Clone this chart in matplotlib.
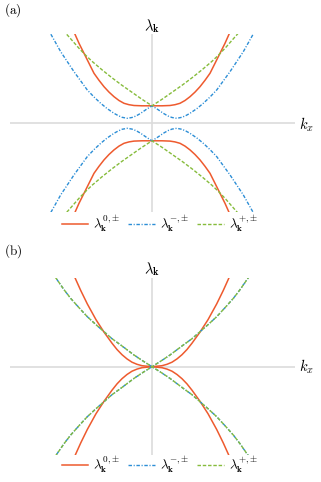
import numpy as np
import matplotlib
matplotlib.use("Agg")
import matplotlib.pyplot as plt

plt.rcParams["mathtext.fontset"] = "cm"
plt.rcParams["font.family"] = "serif"
plt.rcParams["font.serif"] = ["DejaVu Serif"]

# ---------------------------------------------------------------------------
# data: upper branch, k >= 0 (plot is mirror symmetric)
# ---------------------------------------------------------------------------
# panel (a)
a_red_k = [0.0, 0.1, 0.18, 0.23, 0.28, 0.33, 0.38, 0.43, 0.48, 0.53, 0.58,
           0.663, 0.73, 0.77, 0.81]
a_red_y = [0.175, 0.175, 0.178, 0.186, 0.20, 0.228, 0.266, 0.312, 0.366,
           0.43, 0.50, 0.666, 0.80, 0.89, 0.98]

a_blue_k = [0.0, 0.06, 0.113, 0.16, 0.2, 0.247, 0.3, 0.34, 0.38, 0.45, 0.513,
            0.58, 0.647, 0.78, 0.913, 1.007, 1.05]
a_blue_y = [0.175, 0.137, 0.10, 0.073, 0.058, 0.05, 0.06, 0.078, 0.10, 0.148,
            0.20, 0.263, 0.333, 0.516, 0.716, 0.883, 0.96]

a_green_k = [0.0, 0.1, 0.2, 0.3, 0.4, 0.5, 0.6, 0.663, 0.73, 0.8, 0.853, 0.92]
a_green_y = [0.175, 0.24, 0.31, 0.38, 0.455, 0.535, 0.62, 0.68, 0.75, 0.83,
             0.89, 0.97]

# panel (b)
b_red_k = [0.0, 0.1, 0.15, 0.2, 0.25, 0.3, 0.35, 0.4, 0.48, 0.56, 0.647,
           0.713, 0.773, 0.82]
b_red_y = [0.0, 0.01, 0.024, 0.045, 0.078, 0.12, 0.172, 0.235, 0.346, 0.47,
           0.628, 0.763, 0.896, 1.0]

b_green_k = [0.0, 0.09, 0.18, 0.313, 0.4, 0.48, 0.56, 0.647, 0.73, 0.813,
             0.88, 0.947, 1.0]
b_green_y = [0.0, 0.057, 0.117, 0.217, 0.28, 0.35, 0.42, 0.50, 0.59, 0.683,
             0.77, 0.867, 0.94]
b_blue_k = b_green_k          # coincides with the green curve
b_blue_y = b_green_y

LABELS = [r"$\lambda_{\mathbf{k}}^{0{,}\pm}$",
          r"$\lambda_{\mathbf{k}}^{-{,}\pm}$",
          r"$\lambda_{\mathbf{k}}^{+{,}\pm}$"]

RED, BLUE, GREEN = "#EE5A2E", "#2C8ED6", "#86BC3C"
GRID = "#dcdcdc"

W, H = 321, 482


def mirror(k, y):
    k = np.asarray(k, float)
    y = np.asarray(y, float)
    kk = np.concatenate([-k[::-1], k[1:]])
    yy = np.concatenate([y[::-1], y[1:]])
    return kk, yy


def draw_panel(ax, curves, ylim):
    ax.axhline(0, color=GRID, lw=1.2, zorder=0)
    ax.axvline(0, color=GRID, lw=1.2, zorder=0)
    handles = []
    for k, y, style in curves:
        kk, yy = mirror(k, y)
        h, = ax.plot(kk, yy, solid_joinstyle="round", **style)
        ax.plot(kk, -yy, solid_joinstyle="round", **style)
        handles.append(h)
    ax.set_xlim(-1.42, 1.43)
    ax.set_ylim(-ylim, ylim)
    ax.axis("off")
    return handles


styles = [
    dict(color=RED, lw=1.1, ls="-"),
    dict(color=BLUE, lw=1.0, ls=(0, (2.5, 1.2, 0.8, 1.2))),
    dict(color=GREEN, lw=1.0, ls=(0, (2.5, 1.3))),
]

fig = plt.figure(figsize=(W / 100, H / 100), dpi=100)

# panel (a)
ax_a = fig.add_axes([10 / W, 1 - 212.3 / H, 285 / W, 178 / H])
hs = draw_panel(ax_a, [(a_red_k, a_red_y, styles[0]),
                       (a_blue_k, a_blue_y, styles[1]),
                       (a_green_k, a_green_y, styles[2])], 0.89)

# panel (b) -- blue drawn first so the green dashes sit on top
ax_b = fig.add_axes([10 / W, 1 - 455.2 / H, 285 / W, 177 / H])
hb = draw_panel(ax_b, [(b_red_k, b_red_y, styles[0]),
                       (b_blue_k, b_blue_y, styles[1]),
                       (b_green_k, b_green_y, styles[2])], 0.885)

for tag, y0, yl, yk, yleg, handles in [("(a)", 10, 26, 125, 224, hs),
                                       ("(b)", 251, 269, 367, 465, hb)]:
    fig.text(4 / W, 1 - y0 / H, r"$\mathrm{" + tag + "}$", fontsize=9.5,
             ha="left", va="center")
    fig.text(152 / W, 1 - yl / H, r"$\lambda_{\mathbf{k}}$", fontsize=10.5,
             ha="center", va="center")
    fig.text(299 / W, 1 - yk / H, r"$k_x$", fontsize=10.5,
             ha="left", va="center")
    fig.legend(handles, LABELS, loc="center", ncol=3, frameon=False,
               bbox_to_anchor=(160 / W, 1 - yleg / H), fontsize=9.5,
               handlelength=2.0, handletextpad=0.4, columnspacing=0.6,
               borderaxespad=0)

fig.savefig("out.png", dpi=100)
